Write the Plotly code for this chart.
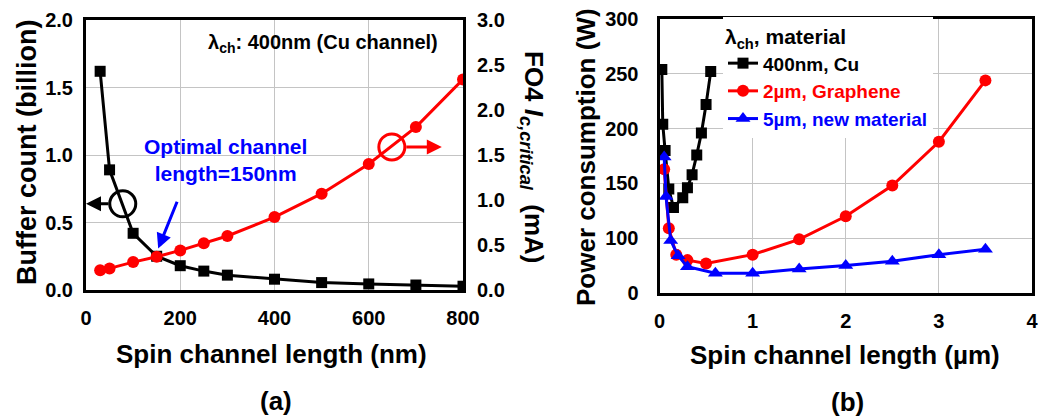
import plotly.graph_objects as go

# ---------- data: panel (a) ----------
a_len_buf = [30, 50, 100, 150, 200, 250, 300, 400, 500, 600, 700, 800]
a_buffer = [1.62, 0.89, 0.42, 0.25, 0.18, 0.14, 0.11, 0.08, 0.055, 0.045, 0.037, 0.028]
a_len_ic = [30, 50, 100, 150, 200, 250, 300, 400, 500, 600, 700, 800]
a_ic = [0.22, 0.24, 0.31, 0.37, 0.44, 0.52, 0.60, 0.81, 1.07, 1.40, 1.81, 2.34]

# ---------- data: panel (b) ----------
b_cu_x = [0.025, 0.035, 0.06, 0.1, 0.15, 0.25, 0.3, 0.35, 0.4, 0.45, 0.5, 0.55]
b_cu_y = [254, 204, 180, 145, 128, 137, 146, 158, 176, 196, 222, 252]
b_gr_x = [0.05, 0.1, 0.18, 0.3, 0.5, 1.0, 1.5, 2.0, 2.5, 3.0, 3.5]
b_gr_y = [163, 109, 85, 80, 77, 85, 99, 120, 148, 188, 244]
b_nm_x = [0.05, 0.07, 0.12, 0.2, 0.3, 0.6, 1.0, 1.5, 2.0, 2.5, 3.0, 3.5]
b_nm_y = [174, 138, 98, 84, 74, 68, 68, 72, 75, 79, 85, 90]

a_xticks = [0, 200, 400, 600, 800]
b_xticks = [0, 1, 2, 3, 4]
b_yticks = [50, 100, 150, 200, 250, 300]
b_yticktext = ["0", "100", "150", "200", "250", "300"]

W, H = 1044, 419
FONT = "Liberation Sans, Arial, sans-serif"
GRID = "#c4c4c4"

def px(x):
    return x / W

def py(y):
    return 1 - y / H

fig = go.Figure()

# panel (a)
fig.add_trace(go.Scatter(x=a_len_buf, y=a_buffer, xaxis="x", yaxis="y", mode="lines+markers",
                         line=dict(color="black", width=3),
                         marker=dict(symbol="square", size=11, color="black"), showlegend=False))
fig.add_trace(go.Scatter(x=a_len_ic, y=a_ic, xaxis="x", yaxis="y2", mode="lines+markers",
                         line=dict(color="#ff0000", width=3),
                         marker=dict(symbol="circle", size=12, color="#ff0000"), showlegend=False))
# open circle markers (axis pointers)
fig.add_trace(go.Scatter(x=[78], y=[0.638], xaxis="x", yaxis="y", mode="markers",
                         marker=dict(symbol="circle-open", size=26, color="black", line=dict(width=3)),
                         showlegend=False))
fig.add_trace(go.Scatter(x=[649], y=[1.59], xaxis="x", yaxis="y2", mode="markers",
                         marker=dict(symbol="circle-open", size=26, color="#ff0000", line=dict(width=3)),
                         showlegend=False))

# panel (b)
fig.add_trace(go.Scatter(x=b_cu_x, y=b_cu_y, xaxis="x2", yaxis="y3", mode="lines+markers",
                         name="<span style='color:black'>400nm, Cu</span>",
                         line=dict(color="black", width=3),
                         marker=dict(symbol="square", size=11, color="black")))
fig.add_trace(go.Scatter(x=b_gr_x, y=b_gr_y, xaxis="x2", yaxis="y3", mode="lines+markers",
                         name="<span style='color:#ff0000'>2µm, Graphene</span>",
                         line=dict(color="#ff0000", width=3),
                         marker=dict(symbol="circle", size=12, color="#ff0000")))
fig.add_trace(go.Scatter(x=b_nm_x, y=b_nm_y, xaxis="x2", yaxis="y3", mode="lines+markers",
                         name="<span style='color:#0000ff'>5µm, new material</span>",
                         line=dict(color="#0000ff", width=3),
                         marker=dict(symbol="triangle-up", size=13, color="#0000ff")))

tickfont = dict(family=FONT, size=20, color="black", weight="bold")
axis_common = dict(showline=True, linecolor="black", linewidth=3, mirror=True,
                   showgrid=True, gridcolor=GRID, gridwidth=1, zeroline=False,
                   ticks="", tickfont=tickfont, automargin=False)

fig.update_layout(
    width=W, height=H, autosize=False,
    margin=dict(l=0, r=0, t=0, b=0),
    paper_bgcolor="white", plot_bgcolor="white",
    font=dict(family=FONT, color="black"),
    xaxis=dict(domain=[px(86), px(463)], range=[0, 800], tickvals=a_xticks,
               anchor="y", ticklabelstandoff=8, **axis_common),
    yaxis=dict(domain=[py(290), py(20)], range=[0, 2.0], dtick=0.5, tickformat=".1f",
               anchor="x", ticklabelstandoff=6, **axis_common),
    yaxis2=dict(overlaying="y", side="right", anchor="x", range=[0, 3.0], dtick=0.5,
                tickformat=".1f", showline=True, linecolor="black", linewidth=3,
                showgrid=False, zeroline=False, ticks="", tickfont=tickfont,
                ticklabelstandoff=7, automargin=False),
    xaxis2=dict(domain=[px(659.5), px(1032)], range=[0, 4], tickvals=b_xticks,
                anchor="y3", ticklabelstandoff=8, **axis_common),
    yaxis3=dict(domain=[py(293), py(19)], range=[50, 300], tickvals=b_yticks,
                ticktext=b_yticktext, anchor="x2", ticklabelstandoff=14, **axis_common),
    legend=dict(x=px(723), y=py(17), xanchor="left", yanchor="top",
                bgcolor="white", borderwidth=0,
                font=dict(family=FONT, size=19, color="black", weight="bold"),
                title=dict(text="λ<sub>ch</sub>, material",
                           font=dict(family=FONT, size=21, color="black", weight="bold")),
                tracegroupgap=0, itemwidth=30),
)

ann = []
def paper_text(text, x, y, size, angle=0, color="black"):
    ann.append(dict(text=text, xref="paper", yref="paper", x=px(x), y=py(y),
                    xanchor="center", yanchor="middle", showarrow=False, textangle=angle,
                    font=dict(family=FONT, size=size, color=color, weight="bold")))

paper_text("Buffer count (billion)", 27, 153, 27, angle=-90)
paper_text("FO4 <i>I</i><sub><i>c,critical</i></sub>  (mA)", 533, 157, 26, angle=90)
paper_text("Spin channel length (nm)", 271, 354, 26)
paper_text("(a)", 276, 401, 26)
paper_text("Power consumption (W)", 586, 157, 26, angle=-90)
paper_text("Spin channel length (µm)", 845, 355, 26)
paper_text("(b)", 847, 402, 26)
paper_text("λ<sub>ch</sub>: 400nm (Cu channel)", 323, 43, 20)
paper_text("Optimal channel<br>length=150nm", 225, 160, 21, color="#0000ff")

# arrows
ann.append(dict(x=150, y=0.28, xref="x", yref="y", ax=21, ay=-52,
                text="", showarrow=True, arrowhead=2, arrowsize=1, arrowwidth=3, arrowcolor="#0000ff",
                standoff=4))
ann.append(dict(x=0, y=0.638, xref="x", yref="y", ax=24, ay=0,
                text="", showarrow=True, arrowhead=2, arrowsize=1, arrowwidth=3, arrowcolor="black"))
ann.append(dict(x=755, y=1.59, xref="x", yref="y2", ax=-37, ay=0,
                text="", showarrow=True, arrowhead=2, arrowsize=1, arrowwidth=3, arrowcolor="#ff0000"))

fig.update_layout(annotations=ann)
fig.write_html("out.html")
